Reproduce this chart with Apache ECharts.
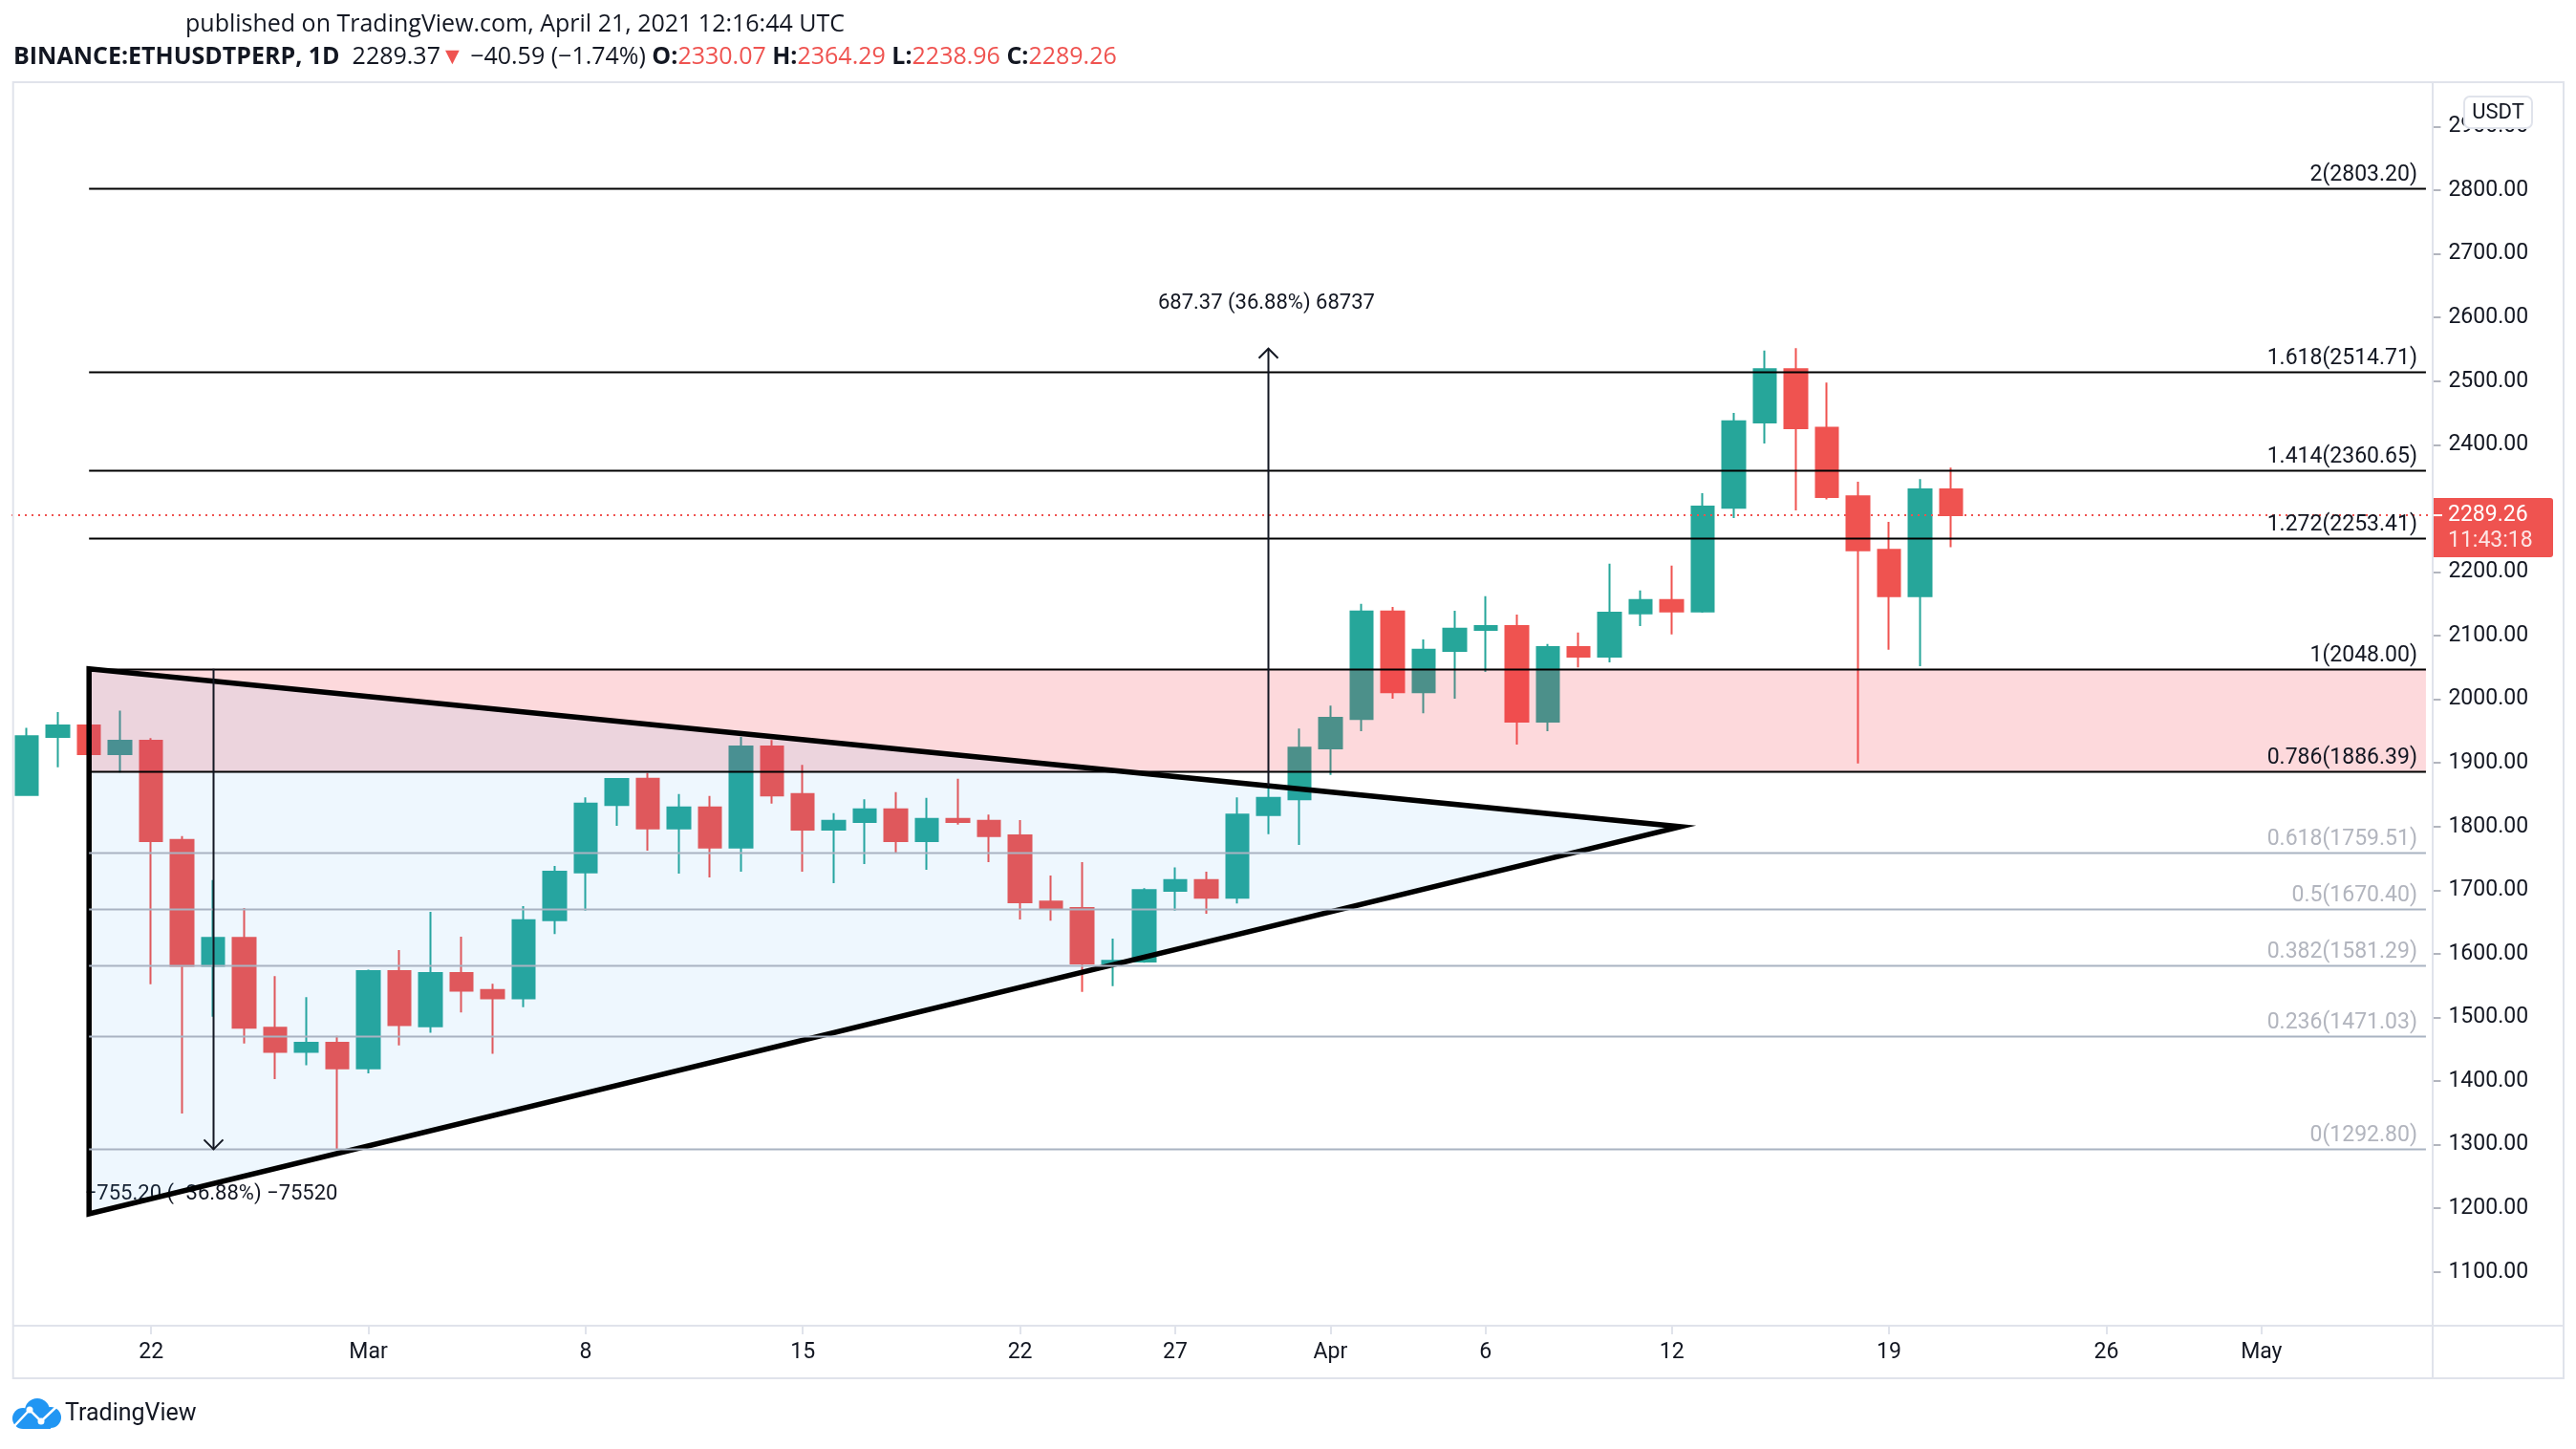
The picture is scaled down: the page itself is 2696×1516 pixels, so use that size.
<!DOCTYPE html>
<html><head><meta charset="utf-8">
<script src="https://cdn.jsdelivr.net/npm/echarts@6/dist/echarts.min.js"></script>
<style>html,body{margin:0;padding:0;background:#fff;}#c{width:2696px;height:1516px;}</style>
</head><body><div id="c"></div>
<script>
const dates = [
'2021-02-18','2021-02-19','2021-02-20','2021-02-21','2021-02-22','2021-02-23','2021-02-24','2021-02-25','2021-02-26','2021-02-27','2021-02-28',
'2021-03-01','2021-03-02','2021-03-03','2021-03-04','2021-03-05','2021-03-06','2021-03-07','2021-03-08','2021-03-09','2021-03-10',
'2021-03-11','2021-03-12','2021-03-13','2021-03-14','2021-03-15','2021-03-16','2021-03-17','2021-03-18','2021-03-19','2021-03-20',
'2021-03-21','2021-03-22','2021-03-23','2021-03-24','2021-03-25','2021-03-26','2021-03-27','2021-03-28','2021-03-29','2021-03-30','2021-03-31',
'2021-04-01','2021-04-02','2021-04-03','2021-04-04','2021-04-05','2021-04-06','2021-04-07','2021-04-08','2021-04-09','2021-04-10',
'2021-04-11','2021-04-12','2021-04-13','2021-04-14','2021-04-15','2021-04-16','2021-04-17','2021-04-18','2021-04-19','2021-04-20',
'2021-04-21','2021-04-22','2021-04-23','2021-04-24','2021-04-25','2021-04-26','2021-04-27','2021-04-28','2021-04-29','2021-04-30',
'2021-05-01','2021-05-02','2021-05-03','2021-05-04','2021-05-05','2021-05-06'];

const opens  = [1849.5,1941,1959,1914,1935,1779,1581,1625,1484,1446,1460,1420,1573,1486,1570,1543,1530,1653,1728,1834,1875,1797,1830,1767,1926,1851,1795,1807,1827,1777,1812,1809,1786,1682,1672,1585,1588,1699,1716,1688,1818,1843,1923,1969,2138,2011,2076,2109,2115,1965,2082,2067,2135,2156,2138,2301,2435,2519,2427,2319,2235,2162,2330.07];
const highs  = [1955,1980,1960,1982,1939,1785,1716,1672,1565,1532,1471,1575,1606,1666,1627,1553,1675,1738,1846,1876,1884,1851,1848,1941,1936,1897,1821,1843,1854,1845,1875,1819,1810,1723,1744,1624,1703,1736,1729,1846,1860,1954,1990,2150,2145,2094,2139,2162,2133,2087,2105,2213,2171,2210,2324,2450,2548,2552,2498,2342,2279,2346,2364.29];
const lows   = [1848,1893,1913,1885,1552,1349,1501,1459,1403,1425,1293,1412,1456,1476,1508,1443,1516,1631,1668,1801,1762,1726,1720,1729,1836,1729,1711,1741,1758,1732,1803,1744,1654,1652,1540,1549,1586,1668,1663,1679,1788,1771,1881,1950,2001,1978,2001,2043,1929,1950,2050,2058,2115,2102,2136,2285,2402,2297,2314,1899,2078,2052,2238.96];
const closes = [1942,1959,1914,1935,1777,1581,1625,1484,1446,1460,1420,1573,1488,1570,1542,1530,1653,1729,1836,1874.8,1797,1830,1767,1926,1849,1795,1809,1827,1777,1812,1807,1785,1681,1671,1585,1589,1700,1716,1688,1819,1845,1924,1971,2138,2011,2078,2111,2115,1965,2082,2067,2136,2156,2138,2303,2437,2519,2426,2318,2234,2162,2330,2289.26];

const tickDates = ['2021-02-22','2021-03-01','2021-03-08','2021-03-15','2021-03-22','2021-03-27','2021-04-01','2021-04-06','2021-04-12','2021-04-19','2021-04-26','2021-05-01'];
const tickTexts = ['22','Mar','8','15','22','27','Apr','6','12','19','26','May'];
const priceTicks = [1100,1200,1300,1400,1500,1600,1700,1800,1900,2000,2100,2200,2300,2400,2500,2600,2700,2800,2900];

const fibRatios = ['2','1.618','1.414','1.272','1','0.786','0.618','0.5','0.382','0.236','0'];
const fibPrices = [2803.20,2514.71,2360.65,2253.41,2048.00,1886.39,1759.51,1670.40,1581.29,1471.03,1292.80];

// drawings in data space: [x index from, x index to, price top, price bottom]
const zoneBox = [2, 77.3, 2048.00, 1886.39];
const triangleX = [2, 53.28, 2];
const triangleY = [2048, 1799.7, 1191.3];
const measureX = [40, 6];
const measureFrom = [1863.8, 2048.0];
const measureTo = [2551.2, 1292.8];
const measureText = ['687.37 (36.88%) 68737', '\u2212755.20 (\u221236.88%) \u221275520'];

const lastPrice = 2289.26;
const countdown = '11:43:18';

const FONT = 'Roboto, "Noto Sans", sans-serif';
const HFONT = '"Open Sans", Roboto, sans-serif';
const DARK = '#131722';
const UP = '#26a69a', DOWN = '#ef5350';
const FIB_END = 77.3;

const candleData = closes.map((c, i) => [opens[i], c, lows[i], highs[i]]);
const tickIdx = tickDates.map(d => dates.indexOf(d));

const chart = echarts.init(document.getElementById('c'), null, {renderer: 'canvas'});

const option = {
  animation: false,
  backgroundColor: '#ffffff',
  grid: {left: 12, top: 86, width: 78 * 32.48, height: 1301, containLabel: false},
  xAxis: [
    {
      type: 'category', data: dates, boundaryGap: true, gridIndex: 0,
      axisLine: {show: false, onZero: false},
      axisTick: {show: true, alignWithLabel: true, length: 9, lineStyle: {color: '#e0e3eb', width: 2},
        interval: (i) => tickIdx.indexOf(i) >= 0},
      axisLabel: {show: true, margin: 17, color: DARK, fontSize: 23, fontFamily: FONT,
        interval: (i) => tickIdx.indexOf(i) >= 0,
        formatter: (v, i) => { const k = tickDates.indexOf(v); return k >= 0 ? tickTexts[k] : ''; }},
      splitLine: {show: false}
    },
    {type: 'value', min: -0.5, max: 77.5, gridIndex: 0, show: false, axisLine: {onZero: false}}
  ],
  yAxis: [{
    type: 'value', position: 'right', min: 1015.5, max: 2969.9, scale: true,
    axisLine: {show: false, onZero: false},
    axisTick: {show: true, inside: false, length: 9, lineStyle: {color: '#b2b5be', width: 2}, customValues: priceTicks},
    axisLabel: {show: true, margin: 17, color: DARK, fontSize: 23, fontFamily: FONT, customValues: priceTicks,
      formatter: (v) => Number(v).toFixed(2)},
    splitLine: {show: false}
  }],
  series: [
    {
      type: 'candlestick', name: 'ETHUSDTPERP', xAxisIndex: 0, yAxisIndex: 0, z: 2,
      data: candleData, barWidth: 24,
      itemStyle: {color: UP, color0: DOWN, borderColor: UP, borderColor0: DOWN, borderWidth: 2},
      emphasis: {disabled: true},
      markLine: {
        silent: true, symbol: ['none', 'none'], animation: false,
        label: {show: false},
        lineStyle: {color: DOWN, type: [2, 5], width: 2},
        data: [{yAxis: lastPrice}]
      }
    },
    {
      type: 'custom', name: 'zone', xAxisIndex: 1, yAxisIndex: 0, z: 3, silent: true, clip: false,
      data: [zoneBox],
      renderItem: (params, api) => {
        const p0 = api.coord([api.value(0), api.value(2)]);
        const p1 = api.coord([api.value(1), api.value(3)]);
        return {type: 'rect', shape: {x: p0[0], y: p0[1], width: p1[0] - p0[0], height: p1[1] - p0[1]},
          style: {fill: 'rgba(242,54,69,0.19)'}};
      }
    },
    {
      type: 'custom', name: 'measureText', xAxisIndex: 1, yAxisIndex: 0, z: 3, silent: true, clip: false,
      data: measureX.map((x, i) => [x, measureFrom[i], measureTo[i]]),
      renderItem: (params, api) => {
        const i = params.dataIndex;
        const tip = api.coord([api.value(0), api.value(2)]);
        const dir = api.value(2) > api.value(1) ? -1 : 1;
        return {type: 'text', style: {text: measureText[i], x: tip[0] - 2, y: tip[1] + dir * 47,
          textAlign: 'center', textVerticalAlign: 'middle', fill: DARK, fontSize: 22, fontFamily: FONT}};
      }
    },
    {
      type: 'custom', name: 'triangle', xAxisIndex: 1, yAxisIndex: 0, z: 4, silent: true, clip: false,
      data: [[triangleX[0], triangleY[0], triangleX[1], triangleY[1], triangleX[2], triangleY[2]]],
      renderItem: (params, api) => {
        const pts = [0, 1, 2].map(k => api.coord([api.value(2 * k), api.value(2 * k + 1)]));
        return {type: 'polygon', shape: {points: pts},
          style: {fill: 'rgba(33,150,243,0.08)', stroke: '#000000', lineWidth: 5.5, lineJoin: 'miter'}};
      }
    },
    {
      type: 'custom', name: 'fib', xAxisIndex: 1, yAxisIndex: 0, z: 5, silent: true, clip: false,
      data: fibPrices.map((p, i) => [2, p]),
      renderItem: (params, api) => {
        const i = params.dataIndex;
        const a = api.coord([2, api.value(1)]);
        const b = api.coord([FIB_END, api.value(1)]);
        const dark = fibPrices[i] >= 1886;
        const y = Math.round(a[1]) + 0.5;
        return {type: 'group', children: [
          {type: 'line', shape: {x1: a[0], y1: y, x2: b[0], y2: y},
            style: {stroke: dark ? '#000000' : '#a9b3c2', lineWidth: 2}},
          {type: 'text', style: {text: fibRatios[i] + '(' + fibPrices[i].toFixed(2) + ')',
            x: b[0] - 9, y: y - 3, textAlign: 'right', textVerticalAlign: 'bottom',
            fill: dark ? DARK : '#b2b5be', fontSize: 23, fontFamily: FONT}}
        ]};
      }
    },
    {
      type: 'custom', name: 'measure', xAxisIndex: 1, yAxisIndex: 0, z: 6, silent: true, clip: false,
      data: measureX.map((x, i) => [x, measureFrom[i], measureTo[i]]),
      renderItem: (params, api) => {
        const s = api.coord([api.value(0), api.value(1)]);
        const t = api.coord([api.value(0), api.value(2)]);
        const dir = t[1] < s[1] ? 1 : -1;
        const x = Math.round(s[0]) + 0.5;
        return {type: 'group', children: [
          {type: 'line', shape: {x1: x, y1: s[1], x2: x, y2: t[1]}, style: {stroke: DARK, lineWidth: 2}},
          {type: 'polyline', shape: {points: [[x - 10, t[1] + dir * 10], [x, t[1]], [x + 10, t[1] + dir * 10]]},
            style: {stroke: DARK, lineWidth: 2, fill: null}}
        ]};
      }
    },
    {
      type: 'custom', name: 'lastPriceLabel', xAxisIndex: 1, yAxisIndex: 0, z: 20, silent: true, clip: false,
      data: [[0, lastPrice]],
      renderItem: (params, api) => {
        const p = api.coord([0, api.value(1)]);
        const y = p[1];
        return {type: 'group', children: [
          {type: 'rect', shape: {x: 2547, y: y - 18, width: 125, height: 62, r: [0, 3, 3, 0]}, style: {fill: DOWN}},
          {type: 'line', shape: {x1: 2547, y1: y, x2: 2556, y2: y}, style: {stroke: '#ffffff', lineWidth: 2}},
          {type: 'text', style: {text: api.value(1).toFixed(2), x: 2562, y: y, textVerticalAlign: 'middle',
            fill: '#ffffff', fontSize: 23, fontFamily: FONT}},
          {type: 'text', style: {text: countdown, x: 2562, y: y + 27, textVerticalAlign: 'middle',
            fill: 'rgba(255,255,255,0.85)', fontSize: 23, fontFamily: FONT}}
        ]};
      }
    }
  ],
  graphic: [
    {type: 'rect', z: 50, silent: true, shape: {x: 13.7, y: 86, width: 2669.3, height: 1356},
      style: {fill: null, stroke: '#e0e3eb', lineWidth: 2}},
    {type: 'line', z: 50, silent: true, shape: {x1: 13.7, y1: 1387, x2: 2683, y2: 1387}, style: {stroke: '#e0e3eb', lineWidth: 2}},
    {type: 'line', z: 50, silent: true, shape: {x1: 2546, y1: 86, x2: 2546, y2: 1442}, style: {stroke: '#e0e3eb', lineWidth: 2}},
    {type: 'rect', z: 60, silent: true, shape: {x: 2579, y: 101, width: 71, height: 33, r: 6},
      style: {fill: '#ffffff', stroke: '#e0e3eb', lineWidth: 2}},
    {type: 'text', z: 61, silent: true, style: {text: 'USDT', x: 2614.5, y: 118, textAlign: 'center', textVerticalAlign: 'middle',
      fill: DARK, fontSize: 22, fontFamily: FONT}},
    {type: 'text', z: 60, silent: true, style: {text: 'published on TradingView.com, April 21, 2021 12:16:44 UTC',
      x: 194, y: 26, textVerticalAlign: 'middle', fill: DARK, fontSize: 25, fontFamily: HFONT}},
    {type: 'text', z: 60, silent: true, style: {
      text: '{b|BINANCE:ETHUSDTPERP, 1D  }{n|2289.37}{r|\u25BC}{n| \u221240.59 (\u22121.74%) }{b|O:}{r|2330.07 }{b|H:}{r|2364.29 }{b|L:}{r|2238.96 }{b|C:}{r|2289.26}',
      x: 14, y: 60, textVerticalAlign: 'middle', fontSize: 25, fontFamily: HFONT,
      rich: {
        b: {fontSize: 25, fontWeight: 'bold', fill: DARK, fontFamily: HFONT},
        n: {fontSize: 25, fill: DARK, fontFamily: HFONT},
        r: {fontSize: 25, fill: DOWN, fontFamily: HFONT}
      }}},
    {type: 'group', z: 60, silent: true, x: 12, y: 1463, children: [
      {type: 'circle', shape: {cx: 27, cy: 13, r: 13}, style: {fill: '#2196f3'}},
      {type: 'circle', shape: {cx: 12, cy: 21, r: 11}, style: {fill: '#2196f3'}},
      {type: 'circle', shape: {cx: 41, cy: 20, r: 11}, style: {fill: '#2196f3'}},
      {type: 'rect', shape: {x: 12, y: 18, width: 29, height: 14}, style: {fill: '#2196f3'}},
      {type: 'polyline', shape: {points: [[3, 29], [19, 12], [31, 24], [48, 8]]}, style: {stroke: '#ffffff', lineWidth: 2.5, fill: null}},
      {type: 'circle', shape: {cx: 19, cy: 12, r: 3.5}, style: {fill: '#ffffff'}},
      {type: 'circle', shape: {cx: 31, cy: 24, r: 3.5}, style: {fill: '#ffffff'}}
    ]},
    {type: 'text', z: 60, silent: true, style: {text: 'TradingView', x: 68, y: 1480, textVerticalAlign: 'middle',
      fill: DARK, fontSize: 25, fontFamily: FONT}}
  ]
};
chart.setOption(option);
</script>
</body></html>
